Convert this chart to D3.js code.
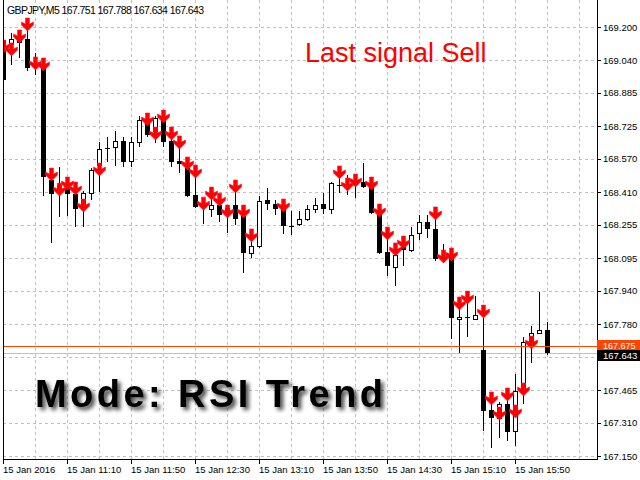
<!DOCTYPE html>
<html>
<head>
<meta charset="utf-8">
<script src="https://cdn.jsdelivr.net/npm/d3@7"></script>
<style>
body { margin: 0; background: #fff; }
svg { display: block; }
</style>
</head>
<body>
<script>
const WIDTH = 640;
const HEIGHT = 480;
const LEFT = 3;
const RIGHT = 597;
const BOTTOM = 459;

// GBPJPY M5, 15 Jan 2016 10:30 .. 16:10
var opens = [169.138, 169.114, 169.128, 169.143, 169.023, 169.014, 168.469, 168.445, 168.430, 168.402,
    168.349, 168.402, 168.536, 168.622, 168.626, 168.655, 168.555, 168.650, 168.741, 168.703,
    168.751, 168.655, 168.559, 168.526, 168.397, 168.354, 168.330, 168.349, 168.335, 168.349,
    168.297, 168.120, 168.149, 168.373, 168.354, 168.335, 168.249, 168.258, 168.278, 168.330,
    168.354, 168.330, 168.445, 168.450, 168.454, 168.459, 168.435, 168.316, 168.125, 168.053,
    168.149, 168.134, 168.211, 168.268, 168.235, 168.106, 168.096, 167.804, 167.814, 167.804,
    167.657, 167.370, 167.331, 167.398, 167.265, 167.465, 167.680, 167.733, 167.751];
var highs = [169.147, 169.171, 169.186, 169.195, 169.076, 169.042, 168.526, 168.531, 168.469, 168.445,
    168.416, 168.526, 168.650, 168.674, 168.703, 168.674, 168.674, 168.774, 168.784, 168.774,
    168.794, 168.708, 168.660, 168.564, 168.526, 168.373, 168.387, 168.383, 168.349, 168.445,
    168.340, 168.206, 168.392, 168.430, 168.373, 168.373, 168.321, 168.321, 168.349, 168.383,
    168.406, 168.459, 168.493, 168.493, 168.488, 168.550, 168.478, 168.349, 168.192, 168.158,
    168.192, 168.244, 168.301, 168.301, 168.316, 168.163, 168.144, 167.895, 167.933, 167.914,
    167.809, 167.441, 167.408, 167.456, 167.542, 167.718, 167.771, 167.933, 167.788];
var lows = [168.937, 169.018, 169.052, 168.990, 168.971, 168.392, 168.168, 168.292, 168.297, 168.244,
    168.244, 168.373, 168.411, 168.555, 168.536, 168.531, 168.531, 168.626, 168.674, 168.645,
    168.626, 168.531, 168.502, 168.387, 168.335, 168.258, 168.292, 168.268, 168.215, 168.254,
    168.024, 168.096, 168.144, 168.325, 168.301, 168.211, 168.206, 168.249, 168.273, 168.311,
    168.306, 168.306, 168.406, 168.397, 168.383, 168.430, 168.306, 168.115, 168.010, 167.962,
    168.058, 168.125, 168.182, 168.192, 168.082, 168.072, 167.709, 167.642, 167.718, 167.800,
    167.269, 167.188, 167.236, 167.222, 167.198, 167.398, 167.594, 167.733, 167.634];
var closes = [168.947, 169.138, 169.138, 169.004, 169.014, 168.483, 168.402, 168.421, 168.402, 168.330,
    168.402, 168.516, 168.617, 168.617, 168.655, 168.555, 168.650, 168.751, 168.684, 168.765,
    168.650, 168.555, 168.545, 168.392, 168.340, 168.335, 168.349, 168.301, 168.306, 168.282,
    168.120, 168.149, 168.368, 168.354, 168.330, 168.249, 168.249, 168.278, 168.330, 168.349,
    168.330, 168.450, 168.445, 168.440, 168.445, 168.435, 168.311, 168.120, 168.058, 168.110,
    168.134, 168.206, 168.268, 168.235, 168.091, 168.091, 167.809, 167.814, 167.814, 167.819,
    167.365, 167.331, 167.398, 167.265, 167.460, 167.690, 167.733, 167.751, 167.643];

// sell arrows: bar index and price of the arrow top
var signalBars = [0, 1, 2, 3, 4, 5, 6, 7, 8, 9, 10, 12, 18, 19, 20, 21, 22, 23, 24, 25,
    26, 27, 28, 29, 30, 31, 35, 42, 43, 44, 46, 47, 48, 49, 50, 54, 55, 56, 57, 58,
    60, 61, 62, 63, 64, 65, 66];
var signalPrices = [169.138, 169.124, 169.186, 169.243, 169.057, 169.052, 168.526, 168.454, 168.483, 168.459,
    168.378, 168.550, 168.789, 168.722, 168.803, 168.722, 168.679, 168.579, 168.540, 168.387,
    168.435, 168.406, 168.349, 168.469, 168.349, 168.235, 168.378, 168.536, 168.478, 168.497,
    168.483, 168.354, 168.244, 168.168, 168.201, 168.340, 168.134, 168.144, 167.910, 167.938,
    167.871, 167.456, 167.384, 167.475, 167.394, 167.499, 167.723];

var priceTicks = [169.200, 169.040, 168.885, 168.725, 168.570, 168.410, 168.255, 168.095,
    167.940, 167.780, 167.625, 167.465, 167.310, 167.150];
var timeTickBars = [0, 8, 16, 24, 32, 40, 48, 56, 64];
var timeTickLabels = ['15 Jan 2016', '15 Jan 11:10', '15 Jan 11:50', '15 Jan 12:30', '15 Jan 13:10',
    '15 Jan 13:50', '15 Jan 14:30', '15 Jan 15:10', '15 Jan 15:50'];

var header = 'GBPJPY,M5  167.751 167.788 167.634 167.643';
var askLevel = 167.675;
var bidLevel = 167.643;

var x = d3.scaleLinear().domain([0, 68]).range([LEFT, 547]);
var y = d3.scaleLinear().domain([167.15, 169.2]).range([456, 27]);

var svg = d3.select('body')
    .append('svg')
    .attr('width', WIDTH)
    .attr('height', HEIGHT)
    .attr('viewBox', '0 0 ' + WIDTH + ' ' + HEIGHT)
    .style('font-family', "Tahoma, 'Liberation Sans', Arial, sans-serif");

var defs = svg.append('defs');
defs.append('clipPath')
    .attr('id', 'plot')
    .append('rect')
    .attr('x', LEFT)
    .attr('y', 0)
    .attr('width', RIGHT - LEFT)
    .attr('height', BOTTOM);

var shadow = defs.append('filter')
    .attr('id', 'shadow')
    .attr('x', '-10%').attr('y', '-30%')
    .attr('width', '120%').attr('height', '160%');
shadow.append('feGaussianBlur').attr('in', 'SourceAlpha').attr('stdDeviation', 2.2).attr('result', 'b');
shadow.append('feOffset').attr('in', 'b').attr('dx', 3).attr('dy', 3).attr('result', 'o');
shadow.append('feComponentTransfer').attr('in', 'o').attr('result', 's')
    .append('feFuncA').attr('type', 'linear').attr('slope', 0.75);
var merge = shadow.append('feMerge');
merge.append('feMergeNode').attr('in', 's');
merge.append('feMergeNode').attr('in', 'SourceGraphic');

// grid
var grid = svg.append('g')
    .attr('stroke', '#c0c0c0')
    .attr('stroke-dasharray', '3,3')
    .attr('shape-rendering', 'crispEdges');
grid.selectAll('line.h')
    .data(priceTicks)
    .enter()
    .append('line')
    .attr('class', 'h')
    .attr('x1', LEFT)
    .attr('x2', RIGHT)
    .attr('y1', function(d) { return Math.round(y(d)) + 0.5; })
    .attr('y2', function(d) { return Math.round(y(d)) + 0.5; });
grid.selectAll('line.v')
    .data(d3.range(4, 73, 4))
    .enter()
    .append('line')
    .attr('class', 'v')
    .attr('x1', function(d) { return x(d) + 0.5; })
    .attr('x2', function(d) { return x(d) + 0.5; })
    .attr('y1', 0)
    .attr('y2', BOTTOM);

// bid line
svg.append('line')
    .attr('x1', LEFT).attr('x2', RIGHT)
    .attr('y1', Math.round(y(bidLevel)) + 0.5)
    .attr('y2', Math.round(y(bidLevel)) + 0.5)
    .attr('stroke', '#c0c0c0')
    .attr('shape-rendering', 'crispEdges');

// mode label with shadow
svg.append('text')
    .attr('x', 35)
    .attr('y', 407)
    .attr('font-family', "'Liberation Sans', Arial, sans-serif")
    .attr('font-weight', 'bold')
    .attr('font-size', 38)
    .attr('textLength', 348)
    .attr('lengthAdjust', 'spacing')
    .attr('fill', '#000')
    .attr('filter', 'url(#shadow)')
    .text('Mode: RSI Trend');

// candles
var bars = d3.range(opens.length).map(function(i) {
    return { i: i, o: opens[i], h: highs[i], l: lows[i], c: closes[i] };
});

var plot = svg.append('g')
    .attr('clip-path', 'url(#plot)')
    .attr('shape-rendering', 'crispEdges');

plot.selectAll('line.wick')
    .data(bars)
    .enter()
    .append('line')
    .attr('class', 'wick')
    .attr('x1', function(d) { return x(d.i) + 0.5; })
    .attr('x2', function(d) { return x(d.i) + 0.5; })
    .attr('y1', function(d) { return y(d.h); })
    .attr('y2', function(d) { return y(d.l); })
    .attr('stroke', '#000');

plot.selectAll('rect.body')
    .data(bars)
    .enter()
    .append('rect')
    .attr('class', 'body')
    .attr('x', function(d) { return d.c > d.o ? x(d.i) - 1.5 : x(d.i) - 2; })
    .attr('width', function(d) { return d.c > d.o ? 4 : 5; })
    .attr('y', function(d) { return y(Math.max(d.o, d.c)); })
    .attr('height', function(d) { return Math.max(1, Math.abs(y(d.o) - y(d.c))); })
    .attr('fill', function(d) { return d.c > d.o ? '#fff' : '#000'; })
    .attr('stroke', function(d) { return d.c > d.o ? '#000' : 'none'; });

// sell arrows
var arrowPath = 'M-2,0 L2,0 L2,6 L6,4 L6,7 L0,13 L-6,7 L-6,4 L-2,6 Z';
var signals = signalBars.map(function(b, k) { return { i: b, p: signalPrices[k] }; });

svg.append('g')
    .attr('clip-path', 'url(#plot)')
    .selectAll('path')
    .data(signals)
    .enter()
    .append('path')
    .attr('d', arrowPath)
    .attr('transform', function(d) { return 'translate(' + (x(d.i) + 0.5) + ',' + y(d.p) + ')'; })
    .attr('fill', '#ff0000')
    .attr('stroke', '#ff1a3c')
    .attr('stroke-width', 0.6);

// ask line
svg.append('line')
    .attr('x1', LEFT).attr('x2', RIGHT)
    .attr('y1', Math.round(y(askLevel)) + 0.5)
    .attr('y2', Math.round(y(askLevel)) + 0.5)
    .attr('stroke', '#ff4500')
    .attr('shape-rendering', 'crispEdges');

// frame
svg.append('path')
    .attr('d', 'M' + (LEFT + 0.5) + ',0 V' + (BOTTOM + 0.5) + ' H' + (RIGHT + 0.5) + ' V0')
    .attr('fill', 'none')
    .attr('stroke', '#000')
    .attr('shape-rendering', 'crispEdges');

// right price axis (labels under the price boxes are hidden, as in the terminal)
var yAxis = svg.append('g');
yAxis.selectAll('line')
    .data(priceTicks)
    .enter()
    .append('line')
    .attr('x1', RIGHT)
    .attr('x2', RIGHT + 4)
    .attr('y1', function(d) { return Math.round(y(d)) + 0.5; })
    .attr('y2', function(d) { return Math.round(y(d)) + 0.5; })
    .attr('stroke', '#000')
    .attr('shape-rendering', 'crispEdges');
yAxis.selectAll('text')
    .data(priceTicks.filter(function(d) { return Math.abs(y(d) - y(bidLevel)) > 10; }))
    .enter()
    .append('text')
    .attr('x', 603)
    .attr('y', function(d) { return y(d) + 3.5; })
    .attr('font-size', 9.5)
    .attr('fill', '#000')
    .text(function(d) { return d3.format('.3f')(d); });

// current price labels
var askY = Math.round(y(askLevel));
var bidY = Math.round(y(bidLevel));
svg.append('rect')
    .attr('x', RIGHT).attr('y', askY - 6)
    .attr('width', WIDTH - RIGHT).attr('height', 11)
    .attr('fill', '#ff4500');
svg.append('text')
    .attr('x', 603).attr('y', askY + 3)
    .attr('font-size', 9)
    .attr('fill', '#fff')
    .text(d3.format('.3f')(askLevel));
svg.append('rect')
    .attr('x', RIGHT).attr('y', askY + 4)
    .attr('width', WIDTH - RIGHT).attr('height', 11)
    .attr('fill', '#000');
svg.append('text')
    .attr('x', 603).attr('y', askY + 13)
    .attr('font-size', 9.5)
    .attr('fill', '#fff')
    .text(d3.format('.3f')(bidLevel));

// bottom time axis
var xAxis = svg.append('g');
xAxis.selectAll('line')
    .data(timeTickBars)
    .enter()
    .append('line')
    .attr('x1', function(d) { return x(d) + 0.5; })
    .attr('x2', function(d) { return x(d) + 0.5; })
    .attr('y1', BOTTOM)
    .attr('y2', BOTTOM + 5)
    .attr('stroke', '#000')
    .attr('shape-rendering', 'crispEdges');
xAxis.selectAll('text')
    .data(timeTickBars)
    .enter()
    .append('text')
    .attr('x', function(d) { return x(d); })
    .attr('y', 473)
    .attr('font-size', 9.5)
    .attr('fill', '#000')
    .text(function(d, i) { return timeTickLabels[i]; });

// header and signal text
svg.append('text')
    .attr('x', 7)
    .attr('y', 14)
    .attr('font-size', 10.5)
    .attr('textLength', 197)
    .attr('lengthAdjust', 'spacing')
    .attr('fill', '#000')
    .text(header);

svg.append('text')
    .attr('x', 305)
    .attr('y', 62)
    .attr('font-family', "'Liberation Sans', Arial, sans-serif")
    .attr('font-size', 27)
    .attr('fill', '#ff0000')
    .text('Last signal Sell');
</script>
</body>
</html>
